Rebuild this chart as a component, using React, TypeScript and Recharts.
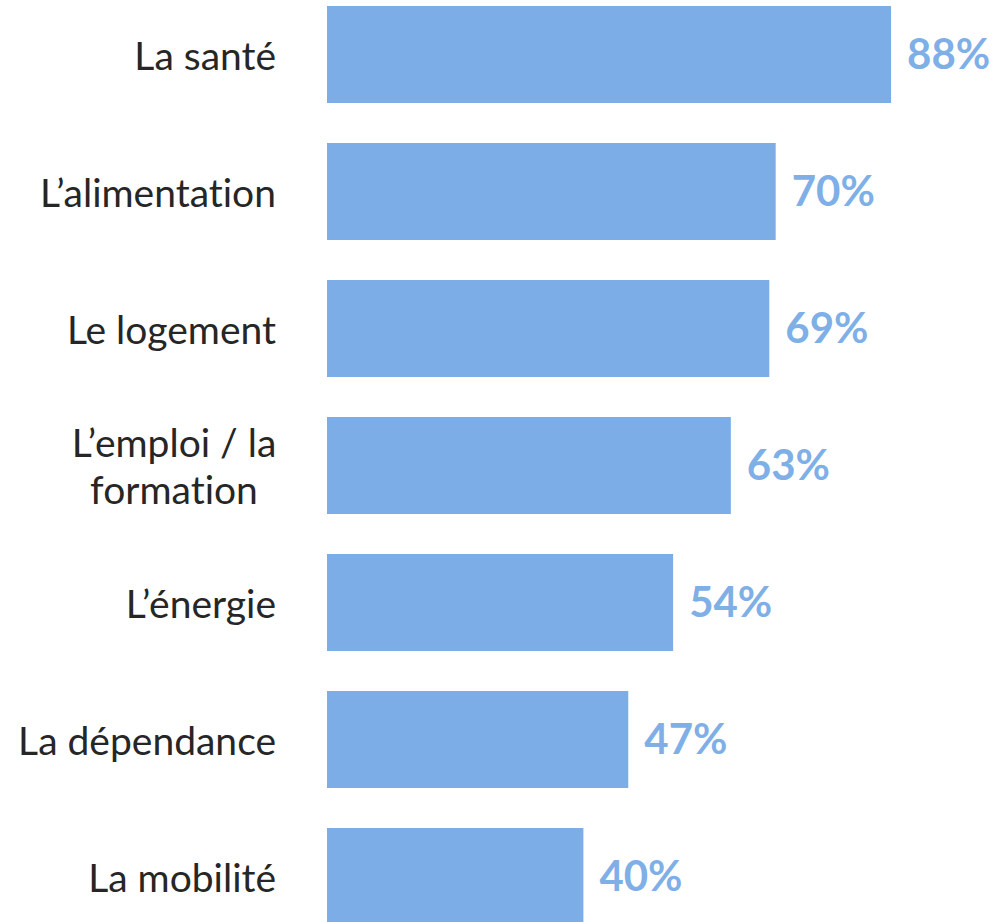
import { BarChart, Bar, XAxis, YAxis, LabelList } from 'recharts';

const categories = [
  'La santé',
  'L’alimentation',
  'Le logement',
  'L’emploi / la\nformation',
  'L’énergie',
  'La dépendance',
  'La mobilité',
];
const shares = [88, 70, 69, 63, 54, 47, 40];

const data = categories.map((name, i) => ({ name, value: shares[i] }));

const BAR = '#7DADE6';
const LABEL = '#7FAFE7';
const FONT = 'Lato, "Open Sans", sans-serif';

function CategoryTick({ x, y, payload }: any) {
  const lines: string[] = String(payload.value).split('\n');
  const lh = 47;
  const y0 = y - ((lines.length - 1) * lh) / 2;
  const multi = lines.length > 1;
  const tx = multi ? x - 102 : x;
  return (
    <text
      x={tx}
      y={y0}
      textAnchor={multi ? 'middle' : 'end'}
      dominantBaseline="central"
      fill="#262626"
      fontSize={39}
      fontFamily={FONT}
      style={{ fontVariantLigatures: 'none', fontFeatureSettings: '"liga" 0, "clig" 0' }}
    >
      {lines.map((l, i) => (
        <tspan key={i} x={tx} dy={i === 0 ? 0 : lh}>
          {l}
        </tspan>
      ))}
    </text>
  );
}

export default function App() {
  return (
    <div
      style={{
        position: 'absolute',
        left: 0,
        top: 0,
        width: 994,
        height: 922,
        overflow: 'hidden',
        background: '#fff',
      }}
    >
      <div style={{ position: 'absolute', left: 0, top: -14 }}>
        <BarChart
          width={994}
          height={959}
          data={data}
          layout="vertical"
          margin={{ top: 0, right: 26, left: 0, bottom: 0 }}
          barCategoryGap={20}
        >
          <XAxis type="number" domain={[0, 100]} hide />
          <YAxis
            type="category"
            dataKey="name"
            width={327}
            axisLine={false}
            tickLine={false}
            tickMargin={0}
            tick={(p: any) => <CategoryTick {...p} x={276} />}
            interval={0}
          />
          <Bar dataKey="value" fill={BAR} isAnimationActive={false}>
            <LabelList
              dataKey="value"
              position="right"
              offset={16}
              formatter={(v: any) => `${v}%`}
              fill={LABEL}
              fontSize={42}
              fontWeight={700}
              fontFamily={FONT}
            />
          </Bar>
        </BarChart>
      </div>
    </div>
  );
}
